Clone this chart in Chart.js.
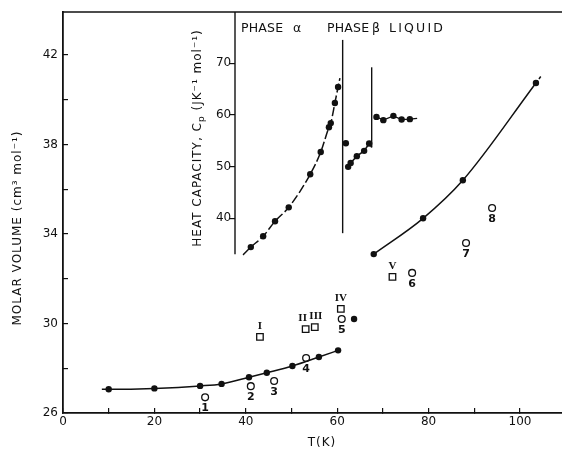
<!DOCTYPE html>
<html>
<head>
<meta charset="utf-8">
<script src="https://cdn.jsdelivr.net/npm/chart.js@4.4.0/dist/chart.umd.min.js"></script>
<style>
 html, body { margin: 0; padding: 0; background: #fff; }
</style>
</head>
<body>
<canvas id="chart" width="562" height="454"></canvas>
<script>
// molar volume of the solid phases (filled dots, lower curve)
var solidT = [10, 20, 30, 34.7, 40.7, 44.6, 50.2, 56, 60.2];
var solidV = [27.06, 27.1, 27.21, 27.3, 27.6, 27.8, 28.1, 28.5, 28.8];
var solidCurveStart = { x: 8.5, y: 27.06 };
var looseDot = { x: 63.7, y: 30.2 };

// molar volume of the liquid (filled dots, upper curve)
var liquidT = [68, 78.8, 87.5, 103.5];
var liquidV = [33.1, 34.7, 36.4, 40.75];
var liquidCurveEnd = { x: 104.6, y: 41.05 };

// open circles, numbered 1..8
var circleT = [31.1, 41.1, 46.2, 53.2, 61, 76.4, 88.2, 93.9];
var circleV = [26.7, 27.2, 27.43, 28.46, 30.2, 32.26, 33.6, 35.16];
var circleLabels = ["1", "2", "3", "4", "5", "6", "7", "8"];

// open squares, numbered I..V
var squareT = [43.1, 53.1, 55.1, 60.8, 72.1];
var squareV = [29.4, 29.75, 29.84, 30.65, 32.08];
var squareLabels = ["I", "II", "III", "IV", "V"];

// inset: heat capacity
var alphaT = [41.1, 43.8, 46.4, 49.4, 54.1, 56.4, 58.2, 58.6, 59.5, 60.2];
var alphaCp = [34.4, 36.5, 39.4, 42.1, 48.5, 52.8, 57.6, 58.4, 62.3, 65.4];
var alphaCurveStart = { x: 39.4, y: 32.9 };
var alphaCurveEnd = { x: 60.6, y: 67.1 };

var betaT = [62.4, 62.95, 64.3, 65.9, 67.0];
var betaCp = [49.93, 50.7, 52.0, 53.03, 54.46];
var betaCurveEnd = { x: 67.55, y: 53.7 };
var betaLooseDot = { x: 61.9, y: 54.5 };

var meltCpT = [68.6, 70.1, 72.3, 74.1, 75.9];
var meltCp = [59.6, 58.97, 59.8, 59.1, 59.16];
var meltCurveEnd = { x: 77.5, y: 59.3 };

// transition lines (T, Cp from .. to)
var alphaBetaLine = [{ x: 61.2, y: 37.1 }, { x: 61.2, y: 74.5 }];
var meltingLine = [{ x: 67.55, y: 53.7 }, { x: 67.55, y: 69.2 }];

// axes
var xTicks = [0, 10, 20, 30, 40, 50, 60, 70, 80, 90, 100];
var xLabels = [0, 20, 40, 60, 80, 100];
var yTicks = [26, 28, 30, 32, 34, 36, 38, 40, 42];
var yLabels = [26, 30, 34, 38, 42];
var cpTicks = [40, 50, 60, 70];
var insetAxisT = 37.64;
var insetAxisBottom = 33.0;

var ink = "#111";
var fontFamily = "'DejaVu Sans', sans-serif";

function pts(xs, ys) {
 return xs.map(function (x, i) {
  return { x: x, y: ys[i] };
 });
}

function lineSet(data, extra) {
 var ds = {
  data: data,
  showLine: true,
  borderColor: ink,
  borderWidth: 1.5,
  backgroundColor: ink,
  pointBackgroundColor: ink,
  pointBorderWidth: 0,
  pointRadius: 3.2,
  tension: 0,
 };
 for (var k in extra) ds[k] = extra[k];
 return ds;
}

function hideEnds(first, last) {
 return function (ctx) {
  var n = ctx.dataset.data.length;
  if (first && ctx.dataIndex === 0) return 0;
  if (last && ctx.dataIndex === n - 1) return 0;
  return 3.2;
 };
}

var datasets = [
 lineSet([solidCurveStart].concat(pts(solidT, solidV)), {
  cubicInterpolationMode: "monotone",
  pointRadius: hideEnds(true, false),
 }),
 lineSet([looseDot], { showLine: false }),
 lineSet(pts(liquidT, liquidV), { cubicInterpolationMode: "monotone" }),
 lineSet([{ x: liquidT[3], y: liquidV[3] }, liquidCurveEnd], {
  pointRadius: 0,
  borderDash: [3, 2],
 }),
 lineSet(pts(circleT, circleV), {
  showLine: false,
  pointStyle: "circle",
  pointRadius: 3.4,
  pointBackgroundColor: "#fff",
  pointBorderColor: ink,
  pointBorderWidth: 1.3,
 }),
 lineSet(pts(squareT, squareV), {
  showLine: false,
  pointStyle: "rect",
  pointRadius: 4.6,
  pointBackgroundColor: "#fff",
  pointBorderColor: ink,
  pointBorderWidth: 1.3,
 }),
 // inset
 lineSet([alphaCurveStart].concat(pts(alphaT, alphaCp)).concat([alphaCurveEnd]), {
  yAxisID: "y2",
  cubicInterpolationMode: "monotone",
  borderDash: [9, 3],
  pointRadius: hideEnds(true, true),
 }),
 lineSet(alphaBetaLine, { yAxisID: "y2", pointRadius: 0, borderWidth: 1.4 }),
 lineSet(pts(betaT, betaCp).concat([betaCurveEnd]), {
  yAxisID: "y2",
  pointRadius: hideEnds(false, true),
 }),
 lineSet([betaLooseDot], { yAxisID: "y2", showLine: false }),
 lineSet(meltingLine, { yAxisID: "y2", pointRadius: 0, borderWidth: 1.4 }),
 lineSet(pts(meltCpT, meltCp).concat([meltCurveEnd]), {
  yAxisID: "y2",
  borderWidth: 1.3,
  pointRadius: hideEnds(false, true),
 }),
];

function drawCentered(ctx, parts, cx, cy, angle) {
 // parts: [text, font, baseline shift]
 ctx.save();
 ctx.translate(cx, cy);
 ctx.rotate(angle);
 var total = 0;
 parts.forEach(function (p) {
  ctx.font = p[1];
  total += ctx.measureText(p[0]).width;
 });
 var x = -total / 2;
 parts.forEach(function (p) {
  ctx.font = p[1];
  ctx.fillText(p[0], x, p[2]);
  x += ctx.measureText(p[0]).width;
 });
 ctx.restore();
}

var figureText = {
 id: "figureText",
 afterDraw: function (chart) {
  var ctx = chart.ctx;
  var area = chart.chartArea;
  var xs = chart.scales.x;
  var ys = chart.scales.y;
  var y2 = chart.scales.y2;

  ctx.save();
  ctx.strokeStyle = ink;
  ctx.lineWidth = 1.6;
  ctx.beginPath();
  ctx.moveTo(area.left, area.top);
  ctx.lineTo(area.right, area.top);
  ctx.stroke();

  var ax = xs.getPixelForValue(insetAxisT);
  ctx.lineWidth = 1.4;
  ctx.beginPath();
  ctx.moveTo(ax, y2.getPixelForValue(insetAxisBottom));
  ctx.lineTo(ax, area.top);
  ctx.stroke();

  ctx.fillStyle = ink;
  ctx.textBaseline = "middle";
  ctx.letterSpacing = "1px";
  var f12 = "12px " + fontFamily;
  var f9 = "9px " + fontFamily;
  drawCentered(ctx, [["MOLAR VOLUME (cm³ mol⁻¹)", f12, 0]], 18, 228, -Math.PI / 2);
  drawCentered(ctx, [["T(K)", f12, 0]], 322, 443, 0);
  drawCentered(
   ctx,
   [
    ["HEAT CAPACITY, C", f12, 0],
    ["p", f9, 4],
    [" (JK⁻¹ mol⁻¹)", f12, 0],
   ],
   198,
   138,
   -Math.PI / 2
  );

  ctx.textAlign = "left";
  ctx.font = "12.5px " + fontFamily;
  ctx.letterSpacing = "0.2px";
  ctx.fillText("PHASE", 241, 29);
  ctx.fillText("α", 293, 29);
  ctx.fillText("PHASE", 327, 29);
  ctx.fillText("β", 372, 29);
  ctx.letterSpacing = "2.2px";
  ctx.fillText("LIQUID", 389, 29);

  ctx.letterSpacing = "0px";
  ctx.textAlign = "center";
  ctx.font = "bold 11px " + fontFamily;
  circleT.forEach(function (t, i) {
   ctx.fillText(circleLabels[i], xs.getPixelForValue(t), ys.getPixelForValue(circleV[i]) + 11);
  });
  var nudge = { II: -3, III: 1 };
  ctx.font = "bold 11px 'Liberation Serif', serif";
  squareT.forEach(function (t, i) {
   var lab = squareLabels[i];
   ctx.fillText(lab, xs.getPixelForValue(t) + (nudge[lab] || 0), ys.getPixelForValue(squareV[i]) - 11);
  });
  ctx.restore();
 },
};

function noPadding(s) {
 s.paddingTop = 0;
 s.paddingBottom = 0;
 s.paddingLeft = 0;
 s.paddingRight = 0;
}

var tickFont = { family: fontFamily, size: 12 };

new Chart(document.getElementById("chart"), {
 type: "scatter",
 data: { datasets: datasets },
 options: {
  responsive: false,
  animation: false,
  devicePixelRatio: 1,
  layout: { autoPadding: false, padding: { left: 0, right: 0, top: 12, bottom: 0 } },
  plugins: { legend: { display: false }, tooltip: { enabled: false } },
  scales: {
   x: {
    type: "linear",
    position: "bottom",
    min: 0,
    max: 109.2,
    afterFit: function (s) {
     s.height = 41;
     noPadding(s);
    },
    afterBuildTicks: function (s) {
     s.ticks = xTicks.map(function (v) {
      return { value: v };
     });
    },
    grid: { drawOnChartArea: false, tickLength: -5, color: ink, lineWidth: 1.2 },
    border: { color: ink, width: 1.8 },
    ticks: {
     padding: 7,
     color: ink,
     font: tickFont,
     maxRotation: 0,
     autoSkip: false,
     callback: function (v) {
      return xLabels.indexOf(v) >= 0 ? String(v) : "";
     },
    },
   },
   y: {
    type: "linear",
    position: "left",
    min: 26,
    max: 43.92,
    afterFit: function (s) {
     s.width = 63;
     noPadding(s);
    },
    afterBuildTicks: function (s) {
     s.ticks = yTicks.map(function (v) {
      return { value: v };
     });
    },
    grid: { drawOnChartArea: false, tickLength: -5, color: ink, lineWidth: 1.2 },
    border: { color: ink, width: 1.8 },
    ticks: {
     padding: 10,
     color: ink,
     font: tickFont,
     autoSkip: false,
     callback: function (v) {
      return yLabels.indexOf(v) >= 0 ? String(v) : "";
     },
    },
   },
   y2: {
    type: "linear",
    position: { x: insetAxisT },
    min: 2.3,
    max: 79.9,
    afterFit: function (s) {
     noPadding(s);
    },
    afterBuildTicks: function (s) {
     s.ticks = cpTicks.map(function (v) {
      return { value: v };
     });
    },
    grid: { drawOnChartArea: false, tickLength: 5, color: ink, lineWidth: 1.2 },
    border: { display: false },
    ticks: {
     padding: 0,
     color: ink,
     font: tickFont,
     autoSkip: false,
     callback: function (v) {
      return v + " ";
     },
    },
   },
  },
 },
 plugins: [figureText],
});
</script>
</body>
</html>
